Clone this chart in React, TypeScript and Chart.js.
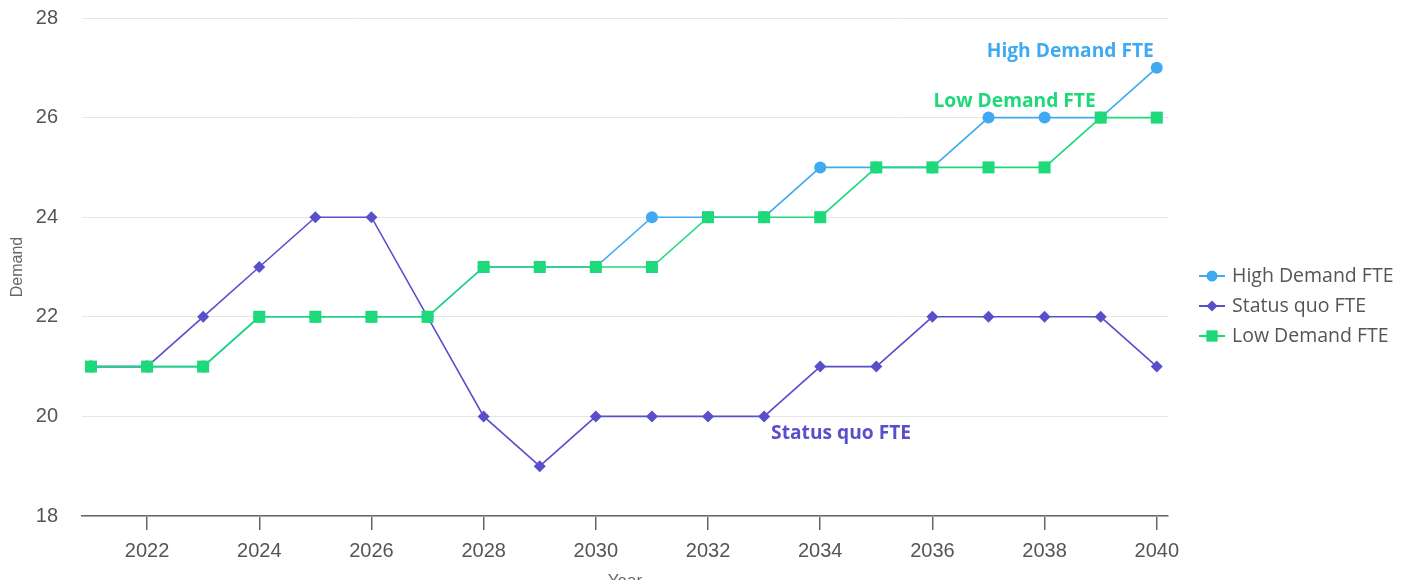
import React, { useEffect, useRef } from "react";
import { Chart, registerables } from "chart.js";

Chart.register(...registerables);

const years = [2021, 2022, 2023, 2024, 2025, 2026, 2027, 2028, 2029, 2030, 2031, 2032, 2033, 2034, 2035, 2036, 2037, 2038, 2039, 2040];
const highDemand = [21, 21, 21, 22, 22, 22, 22, 23, 23, 23, 24, 24, 24, 25, 25, 25, 26, 26, 26, 27];
const statusQuo = [21, 21, 22, 23, 24, 24, 22, 20, 19, 20, 20, 20, 20, 21, 21, 22, 22, 22, 22, 21];
const lowDemand = [21, 21, 21, 22, 22, 22, 22, 23, 23, 23, 23, 24, 24, 24, 25, 25, 25, 25, 26, 26];
const xTicks = [2022, 2024, 2026, 2028, 2030, 2032, 2034, 2036, 2038, 2040];
const yTicks = [18, 20, 22, 24, 26, 28];

const seriesNames = ["High Demand FTE", "Status quo FTE", "Low Demand FTE"];
const seriesColors = ["#3faaf2", "#5a4fcb", "#1ed97a"];
const seriesStyles = ["circle", "rectRot", "rect"];
const seriesRadius = [6, 6, 8.5];

// label anchors: [year index, dx, dy, align]
const labelAnchors: [number, number, number, CanvasTextAlign][] = [
  [19, -3, -16, "right"],
  [12, 7, 17, "left"],
  [18, -5, -16, "right"],
];

function drawMarker(ctx: CanvasRenderingContext2D, style: string, x: number, y: number, r: number, color: string) {
  ctx.save();
  ctx.fillStyle = color;
  ctx.beginPath();
  if (style === "circle") {
    ctx.arc(x, y, r, 0, Math.PI * 2);
  } else if (style === "rectRot") {
    ctx.moveTo(x, y - r);
    ctx.lineTo(x + r, y);
    ctx.lineTo(x, y + r);
    ctx.lineTo(x - r, y);
    ctx.closePath();
  } else {
    const s = r * Math.SQRT1_2;
    ctx.rect(x - s, y - s, 2 * s, 2 * s);
  }
  ctx.fill();
  ctx.restore();
}

const customPlugin = {
  id: "customLabelsLegend",
  afterDatasetsDraw(chart: any) {
    const ctx = chart.ctx as CanvasRenderingContext2D;
    const xs = chart.scales.x;
    const ys = chart.scales.y;
    const data = [highDemand, statusQuo, lowDemand];
    ctx.save();
    ctx.font = "bold 19.2px 'Open Sans', 'Noto Sans', sans-serif";
    ctx.textBaseline = "middle";
    labelAnchors.forEach((a, i) => {
      const idx = a[0];
      const px = xs.getPixelForValue(years[idx]);
      const py = ys.getPixelForValue(data[i][idx]);
      ctx.fillStyle = seriesColors[i];
      ctx.textAlign = a[3];
      ctx.fillText(seriesNames[i], px + a[1], py + a[2]);
    });
    ctx.restore();

    // legend
    const area = chart.chartArea;
    const lx = area.right + 31;
    const midY = (area.top + area.bottom) / 2 + 39;
    ctx.save();
    ctx.font = "19.5px 'Open Sans', 'Noto Sans', sans-serif";
    ctx.textBaseline = "middle";
    ctx.textAlign = "left";
    seriesNames.forEach((name, i) => {
      const y = midY + (i - 1) * 30;
      ctx.strokeStyle = seriesColors[i];
      ctx.lineWidth = 2;
      ctx.beginPath();
      ctx.moveTo(lx, y);
      ctx.lineTo(lx + 26, y);
      ctx.stroke();
      drawMarker(ctx, seriesStyles[i], lx + 13, y, seriesStyles[i] === "rect" ? 8 : 5.5, seriesColors[i]);
      ctx.fillStyle = "#555555";
      ctx.fillText(name, lx + 33, y);
    });
    ctx.restore();
  },
};

export default function App() {
  const ref = useRef<HTMLCanvasElement | null>(null);
  useEffect(() => {
    if (!ref.current) return;
    const chart = new Chart(ref.current, {
      type: "line",
      data: {
        labels: years,
        datasets: [highDemand, statusQuo, lowDemand].map((vals, i) => ({
          label: seriesNames[i],
          data: vals.map((v, j) => ({ x: years[j], y: v })),
          borderColor: seriesColors[i],
          backgroundColor: seriesColors[i],
          borderWidth: 1.6,
          pointStyle: seriesStyles[i] as any,
          pointRadius: seriesRadius[i],
          pointHoverRadius: seriesRadius[i],
          pointBorderWidth: 0,
          tension: 0,
          clip: false as any,
          order: i === 2 ? 0 : i === 0 ? 2 : 1,
        })),
      },
      options: {
        animation: false,
        responsive: true,
        maintainAspectRatio: false,
        layout: { autoPadding: false, padding: { left: 0, right: 238, top: 10, bottom: 0 } },
        plugins: {
          legend: { display: false },
          tooltip: { enabled: false },
        },
        scales: {
          x: {
            type: "linear",
            min: 2020.84,
            max: 2040.2,
            afterBuildTicks: (scale: any) => {
              scale.ticks = xTicks.map((v) => ({ value: v }));
            },
            afterFit: (scale: any) => {
              scale.height = 82;
              scale.paddingLeft = 0;
              scale.paddingRight = 0;
            },
            ticks: {
              font: { family: "'Liberation Sans', Arial, sans-serif", size: 20 },
              color: "#555555",
              padding: 9,
              maxRotation: 0,
              callback: (v: any) => String(v),
            },
            grid: {
              drawOnChartArea: false,
              drawTicks: true,
              tickLength: 14,
              color: "#666666",
              lineWidth: 1.5,
            },
            border: { display: true, color: "#666666", width: 1.5 },
            title: {
              display: true,
              text: "Year",
              color: "#666666",
              font: { family: "'Liberation Sans', Arial, sans-serif", size: 17 },
              padding: { top: 0, bottom: 6 },
            },
          },
          y: {
            min: 18,
            max: 28,
            afterBuildTicks: (scale: any) => {
              scale.ticks = yTicks.map((v) => ({ value: v }));
            },
            afterFit: (scale: any) => {
              scale.width = 74;
              scale.paddingTop = 0;
              scale.paddingBottom = 0;
            },
            ticks: {
              font: { family: "'Liberation Sans', Arial, sans-serif", size: 20 },
              color: "#555555",
              padding: 24,
            },
            grid: {
              drawTicks: false,
              color: "#e6e6e6",
              lineWidth: 1,
            },
            border: { display: false },
            title: {
              display: true,
              text: "Demand",
              color: "#666666",
              font: { family: "'Liberation Sans', Arial, sans-serif", size: 16 },
              padding: { top: 0, bottom: 0 },
            },
          },
        },
      },
      plugins: [customPlugin],
    });
    return () => chart.destroy();
  }, []);
  return (
    <div style={{ position: "relative", width: "100%", height: 590 }}>
      <canvas ref={ref} />
    </div>
  );
}
